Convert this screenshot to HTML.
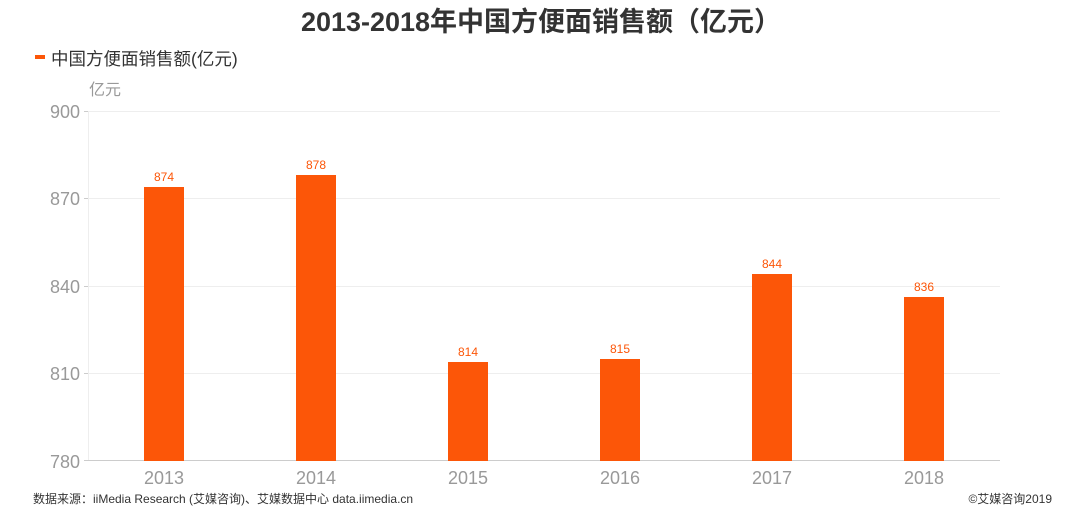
<!DOCTYPE html>
<html><head><meta charset="utf-8"><style>
body{margin:0;background:#fff;width:1082px;height:520px;overflow:hidden;font-family:"Liberation Sans","Noto Sans CJK SC",sans-serif;}
</style></head><body>
<svg width="1082" height="520" xmlns="http://www.w3.org/2000/svg" font-family="Liberation Sans, Noto Sans CJK SC, sans-serif">
<text x="541" y="31" text-anchor="middle" font-size="27" font-weight="bold" fill="#333">2013-2018年中国方便面销售额（亿元）</text>
<rect x="35" y="55" width="10" height="4" fill="#fc5608"/>
<text x="51" y="65" font-size="17.5" fill="#333">中国方便面销售额(亿元)</text>
<text x="89" y="95" font-size="16" fill="#999">亿元</text>
<g stroke="#eee" stroke-width="1">
<line x1="88" y1="111.5" x2="1000" y2="111.5"/>
<line x1="88" y1="198.5" x2="1000" y2="198.5"/>
<line x1="88" y1="286.5" x2="1000" y2="286.5"/>
<line x1="88" y1="373.5" x2="1000" y2="373.5"/>
<line x1="88.5" y1="111" x2="88.5" y2="461"/>
</g>
<g stroke="#ccc"><line x1="84" y1="111.5" x2="88" y2="111.5"/><line x1="84" y1="198.5" x2="88" y2="198.5"/><line x1="84" y1="286.5" x2="88" y2="286.5"/><line x1="84" y1="373.5" x2="88" y2="373.5"/><line x1="84" y1="460.5" x2="88" y2="460.5"/>
<line x1="88" y1="460.5" x2="1000" y2="460.5"/></g>
<g font-size="18" fill="#999" text-anchor="end">
<text x="80" y="118">900</text><text x="80" y="205">870</text><text x="80" y="293">840</text><text x="80" y="380">810</text><text x="80" y="468">780</text>
</g>
<g fill="#fc5608">
<rect x="144" y="187" width="40" height="274"/>
<rect x="296" y="175" width="40" height="286"/>
<rect x="448" y="362" width="40" height="99"/>
<rect x="600" y="359" width="40" height="102"/>
<rect x="752" y="274" width="40" height="187"/>
<rect x="904" y="297" width="40" height="164"/>
</g>
<g font-size="12" fill="#fc5608" text-anchor="middle">
<text x="164" y="181">874</text><text x="316" y="169">878</text><text x="468" y="356">814</text><text x="620" y="353">815</text><text x="772" y="268">844</text><text x="924" y="291">836</text>
</g>
<g font-size="18" fill="#999" text-anchor="middle">
<text x="164" y="484">2013</text><text x="316" y="484">2014</text><text x="468" y="484">2015</text><text x="620" y="484">2016</text><text x="772" y="484">2017</text><text x="924" y="484">2018</text>
</g>
<text x="33" y="503" font-size="12" fill="#333">数据来源：iiMedia Research (艾媒咨询)、艾媒数据中心 data.iimedia.cn</text>
<text x="1052" y="503" font-size="12" fill="#333" text-anchor="end">©艾媒咨询2019</text>
</svg>
</body></html>
